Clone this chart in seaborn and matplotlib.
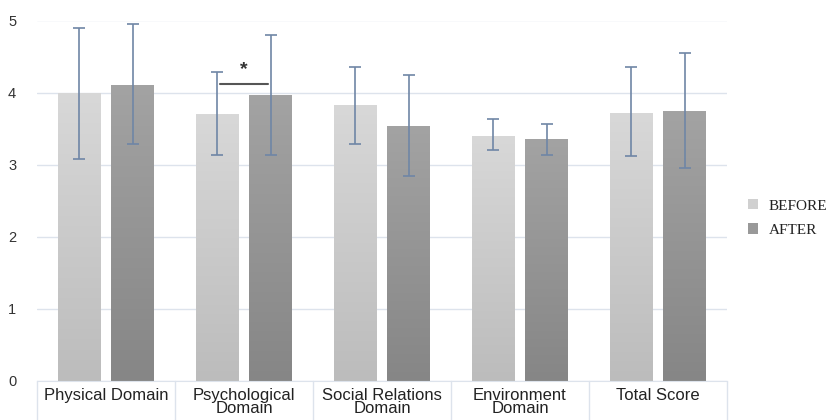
import numpy as np
import pandas as pd
import matplotlib
matplotlib.use("Agg")
import matplotlib.pyplot as plt
import seaborn as sns
from matplotlib.patches import Patch
from matplotlib.colors import LinearSegmentedColormap
import matplotlib.transforms as mtransforms

categories = ["Physical Domain", "Psychological\nDomain", "Social Relations\nDomain",
              "Environment\nDomain", "Total Score"]
groups = ["BEFORE", "AFTER"]
before_mean = [4.00, 3.70, 3.83, 3.40, 3.72]
before_low = [3.08, 3.13, 3.29, 3.20, 3.12]
before_high = [4.90, 4.29, 4.36, 3.64, 4.36]
after_mean = [4.11, 3.96, 3.54, 3.36, 3.74]
after_low = [3.29, 3.13, 2.85, 3.13, 2.95]
after_high = [4.95, 4.80, 4.24, 3.56, 4.55]
yticks = [0, 1, 2, 3, 4, 5]

df = pd.DataFrame({
    "category": categories * 2,
    "group": [groups[0]] * 5 + [groups[1]] * 5,
    "mean": before_mean + after_mean,
})

sns.set_style("white")
plt.rcParams["font.family"] = ["Liberation Sans", "DejaVu Sans"]

fig = plt.figure(figsize=(8.33, 4.2), dpi=100)
ax = fig.add_axes([37 / 833, 1 - 381 / 420, (727 - 37) / 833, (381 - 20.5) / 420])

palette = {"BEFORE": "#d0d0d0", "AFTER": "#999999"}
sns.barplot(data=df, x="category", y="mean", hue="group", order=categories,
            hue_order=groups, palette=palette, width=0.77, gap=0.2,
            ax=ax, legend=False, saturation=1, edgecolor="none", zorder=2)

grad = {"BEFORE": ("#bcbcbc", "#d8d8d8"), "AFTER": ("#868686", "#a3a3a3")}
err_col = "#6f86a6"
lows = {"BEFORE": before_low, "AFTER": after_low}
highs = {"BEFORE": before_high, "AFTER": after_high}
means = {"BEFORE": before_mean, "AFTER": after_mean}

for gi, (g, cont) in enumerate(zip(groups, ax.containers)):
    cmap = LinearSegmentedColormap.from_list(g, list(grad[g]))
    xs = []
    for bar in cont.patches:
        x0, w = bar.get_x(), bar.get_width()
        h = bar.get_height()
        img = ax.imshow(np.linspace(0, 1, 256).reshape(-1, 1), cmap=cmap, aspect="auto",
                        origin="lower", extent=[x0, x0 + w, 0, h], zorder=2.5)
        img.set_clip_path(bar)
        xs.append(x0 + w / 2)
    m = np.array(means[g])
    yerr = np.vstack([m - np.array(lows[g]), np.array(highs[g]) - m])
    ax.errorbar(xs, m, yerr=yerr, fmt="none", ecolor=err_col, elinewidth=1.2,
                capsize=4, capthick=1.2, zorder=4)

ax.set_xlim(-0.5, 4.5)
ax.set_ylim(0, 5)
ax.set_yticks(yticks)
ax.yaxis.grid(True, color="#dde3ec", linewidth=1, zorder=0)
ax.set_axisbelow(True)
for s in ["left", "right", "top"]:
    ax.spines[s].set_visible(False)
ax.spines["bottom"].set_color("#dde3ec")
ax.tick_params(axis="y", length=0, pad=15, labelsize=10.5, labelcolor="#333333")
ax.tick_params(axis="x", length=0, pad=5, labelsize=12, labelcolor="#222222")
ax.set_xlabel("")
ax.set_ylabel("")
for lab in ax.get_xticklabels():
    lab.set_linespacing(0.84)

trans = mtransforms.blended_transform_factory(ax.transData, ax.transAxes)
for b in np.arange(-0.5, 5.0, 1.0):
    ax.plot([b, b], [0, -0.12], color="#dde3ec", lw=1, transform=trans, clip_on=False)

# significance marker
xb = ax.containers[0].patches[1]
xa = ax.containers[1].patches[1]
x1 = xb.get_x() + xb.get_width() / 2 + 0.02
x2 = xa.get_x() + xa.get_width() / 2 - 0.02
ax.plot([x1, x2], [4.12, 4.12], color="#555555", lw=1.5, zorder=5)
ax.text((x1 + x2) / 2, 4.2, "*", ha="center", va="bottom", fontsize=14,
        fontweight="bold", color="#333333")

handles = [Patch(facecolor=palette[g], edgecolor="none") for g in groups]
fig.legend(handles, groups, loc="center left", bbox_to_anchor=(734 / 833, 1 - 218 / 420),
           frameon=False, prop={"family": "Liberation Serif", "size": 11},
           handlelength=0.65, handleheight=0.65, handletextpad=0.7, labelspacing=0.7,
           labelcolor="#222222")

fig.savefig("out.png", dpi=100)
